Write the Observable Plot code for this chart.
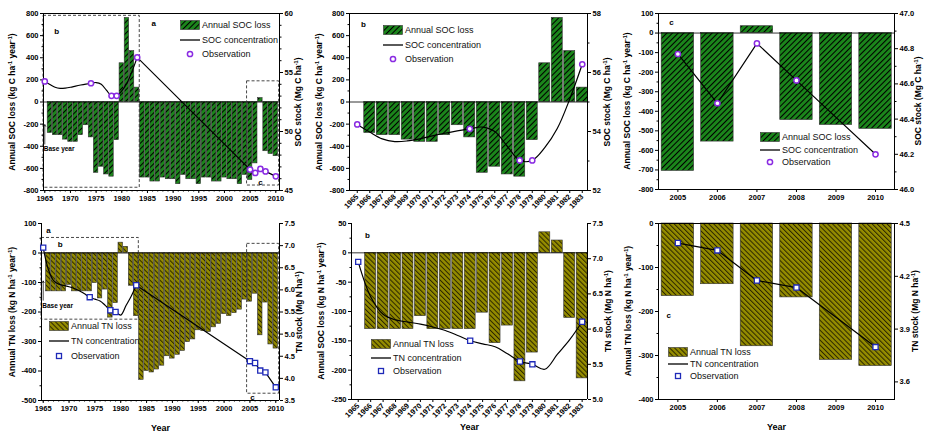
<!DOCTYPE html>
<html><head><meta charset="utf-8">
<script src="https://cdn.jsdelivr.net/npm/d3@7"></script>
<script src="https://cdn.jsdelivr.net/npm/@observablehq/plot@0.6"></script>
<style>
body{margin:0;background:#fff;font-family:"Liberation Sans",Arial,sans-serif;}
#root{position:relative;width:929px;height:434px;overflow:hidden;background:#fff;}
.panel{position:absolute;}
.panel svg{position:absolute;left:0;top:0;max-width:none;}
.lg{position:absolute;height:12px;display:flex;align-items:center;white-space:nowrap;font-size:9px;color:#111;font-family:"Liberation Sans",Arial,sans-serif;}
.lg svg{flex:none;}
.ttl{position:absolute;white-space:nowrap;font-weight:bold;font-size:8.5px;line-height:10px;color:#000;
  font-family:"Liberation Sans",Arial,sans-serif;transform:translate(-50%,-50%) rotate(-90deg);}
.ttl sup{font-size:5.5px;vertical-align:3px;line-height:0;}
</style></head><body>
<svg width="0" height="0" style="position:absolute"><defs>
<pattern id="hatchSOC" patternUnits="userSpaceOnUse" width="4" height="4" patternTransform="rotate(45)">
<rect width="4" height="4" fill="#1b861b"/><line x1="0.5" y1="0" x2="0.5" y2="4" stroke="#000" stroke-width="1.1"/></pattern>
<pattern id="hatchTN" patternUnits="userSpaceOnUse" width="3.5" height="3.5" patternTransform="rotate(-45)">
<rect width="3.5" height="3.5" fill="#948c00"/><line x1="0.5" y1="0" x2="0.5" y2="3.5" stroke="#2a2500" stroke-width="1"/></pattern>
</defs></svg>
<div id="root"></div>
<script>
// ---------- data ----------
const barYears = [1966,1967,1968,1969,1970,1971,1972,1973,1974,1975,1976,1977,1978,1979,1980,1981,1982,1983,
  1984,1985,1986,1987,1988,1989,1990,1991,1992,1993,1994,1995,1996,1997,1998,1999,2000,2001,2002,2003,2004,
  2005,2006,2007,2008,2009,2010];
const socLoss = [-280,-300,-300,-340,-360,-360,-300,-210,-320,-640,-585,-655,-675,-345,350,760,460,130,
  -683,-683,-719,-719,-683,-698,-698,-743,-659,-698,-698,-743,-683,-683,-719,-719,-683,-698,-698,-743,-659,
  -705,-555,35,-445,-470,-490];
const tnLoss = [-130,-130,-130,-130,-108,-130,-130,-130,-130,-102,-154,-124,-219,-170,35,21,-111,-214,
  -430,-400,-405,-395,-382,-350,-358,-345,-332,-302,-293,-262,-265,-268,-252,-240,-207,-214,-204,-192,-158,
  -165,-138,-279,-168,-310,-324];
const lineYears = [1965,1966,1967,1968,1969,1970,1971,1972,1973,1974,1975,1976,1977,1978,1979,1980,1981,1982,1983,
  2005,2006,2007,2008,2009,2010];
const socStock = [54.24,53.98,53.75,53.66,53.68,53.75,53.85,53.94,54.02,54.09,54.15,54.0,53.5,53.02,53.02,53.45,54.1,55.1,56.28,
  46.77,46.49,46.83,46.62,46.41,46.2];
const tnStock = [6.955,6.46,6.21,6.13,6.10,6.07,6.03,5.98,5.91,5.835,5.79,5.75,5.65,5.54,5.50,5.43,5.64,5.85,6.105,
  4.389,4.347,4.176,4.136,3.967,3.798];
const obsYears = [1965,1974,1978,1979,1983,2005,2006,2007,2008,2010];
const socObs = [54.24,54.09,53.02,53.02,56.28,46.77,46.49,46.83,46.62,46.2];
const tnObs = [6.955,5.835,5.54,5.50,6.105,4.389,4.347,4.176,4.136,3.798];

const ticksA = [1965,1970,1975,1980,1985,1990,1995,2000,2005,2010];
const ticksB = [1965,1966,1967,1968,1969,1970,1971,1972,1973,1974,1975,1976,1977,1978,1979,1980,1981,1982,1983];
const ticksC = [2005,2006,2007,2008,2009,2010];
const minorA = [1965,1966,1967,1968,1969,1970,1971,1972,1973,1974,1975,1976,1977,1978,1979,1980,1981,1982,1983,
  1984,1985,1986,1987,1988,1989,1990,1991,1992,1993,1994,1995,1996,1997,1998,1999,2000,2001,2002,2003,2004,
  2005,2006,2007,2008,2009,2010];

const zip = (xs, vs) => xs.map((year, i) => ({year, value: vs[i]}));
const SOC = {bars: zip(barYears, socLoss), line: zip(lineYears, socStock), obs: zip(obsYears, socObs)};
const TN = {bars: zip(barYears, tnLoss), line: zip(lineYears, tnStock), obs: zip(obsYears, tnObs)};

const tSOC = "Annual SOC loss (kg C ha<sup>-1</sup> year<sup>-1</sup>)";
const tSOCr = "SOC stock (Mg C ha<sup>-1</sup>)";
const tTN = "Annual TN loss (kg N ha<sup>-1</sup> year<sup>-1</sup>)";
const tTNb = "Annual SOC loss (kg N ha<sup>-1</sup> year<sup>-1</sup>)";
const tTNr = "TN stock (Mg N ha<sup>-1</sup>)";

const f1 = d => d.toFixed(1), f0 = d => String(d);
const panels = [
  {left:0, top:0, w:310, h:215, m:[13,31,25,43], xDomain:[1964.75,2010.72], range:[1965,2010], kind:"SOC", bw:0.43, topBorder:true,
   yDomain:[-800,800], yTicks:[-800,-600,-400,-200,0,200,400,600,800], yMinor:[-700,-500,-300,-100,100,300,500,700],
   rDomain:[45,60], rTicks:[45,50,55,60], rMinor:[46,47,48,49,51,52,53,54,56,57,58,59], rFmt:f0,
   xTicks:ticksA, xMinor:minorA, rotate:0,
   lt:tSOC, rt:tSOCr, ltDx:-31, rtDx:19,
   letters:[{x:1986.2,y:713,t:"a"},{x:1967.3,y:640,t:"b"},{x:2007.0,y:-725,t:"c"}],
   boxes:[{x1:1964.75,x2:1983.5,y1:-775,y2:779},{x1:2004.4,x2:2010.65,y1:-755,y2:187}],
   base:{x:1965,y1:-380,y2:-205,ty:-428},
   legend:{x:180,y:25,dy:14.5}, year:false},
  {left:310, top:0, w:310, h:215, m:[13,33,25,39], xDomain:[1964.38,1983.42], range:[1965,1983], kind:"SOC", bw:0.44, topBorder:true,
   yDomain:[-800,800], yTicks:[-800,-600,-400,-200,0,200,400,600,800], yMinor:[-700,-500,-300,-100,100,300,500,700],
   rDomain:[52,58], rTicks:[52,54,56,58], rMinor:[53,55,57], rFmt:f0,
   xTicks:ticksB, xMinor:[], rotate:-45,
   lt:tSOC, rt:tSOCr, ltDx:-30, rtDx:20,
   letters:[{x:1965.5,y:704,t:"b"}], boxes:[], base:null,
   legend:{x:383,y:30,dy:14.5}, year:false},
  {left:620, top:0, w:309, h:215, m:[13,35,26,38], xDomain:[2004.51,2010.48], range:[2005,2010], kind:"SOC", bw:0.41, topBorder:true,
   yDomain:[-800,100], yTicks:[-800,-700,-600,-500,-400,-300,-200,-100,0,100], yMinor:[-750,-650,-550,-450,-350,-250,-150,-50,50],
   rDomain:[46,47], rTicks:[46,46.2,46.4,46.6,46.8,47], rMinor:[46.1,46.3,46.5,46.7,46.9], rFmt:f1,
   xTicks:ticksC, xMinor:[], rotate:0,
   lt:tSOC, rt:tSOCr, ltDx:-31, rtDx:24,
   letters:[{x:2004.84,y:56,t:"c"}], boxes:[], base:null,
   legend:{x:760,y:137,dy:12.5}, year:false},
  {left:0, top:215, w:310, h:219, m:[8,31,34,41], xDomain:[1964.67,2010.72], range:[1965,2010], kind:"TN", bw:0.43, topBorder:false,
   yDomain:[-500,100], yTicks:[-500,-400,-300,-200,-100,0,100], yMinor:[-450,-350,-250,-150,-50,50],
   rDomain:[3.5,7.5], rTicks:[3.5,4,4.5,5,5.5,6,6.5,7,7.5], rMinor:[], rFmt:f1,
   xTicks:ticksA, xMinor:minorA, rotate:0,
   lt:tTN, rt:tTNr, ltDx:-29, rtDx:20,
   letters:[{x:1966.0,y:77,t:"a"},{x:1968.3,y:30,t:"b"},{x:2005.5,y:-490,t:"c"}],
   boxes:[{x1:1964.67,x2:1983.5,y1:-226,y2:51},{x1:2004.45,x2:2010.65,y1:-477,y2:31}],
   base:{x:1965,y1:-160,y2:-95,ty:-178},
   legend:{x:49,y:326,dy:15}, year:true},
  {left:310, top:215, w:310, h:219, m:[8,33,35,41], xDomain:[1964.46,1983.43], range:[1965,1983], kind:"TN", bw:0.44, topBorder:false,
   yDomain:[-250,50], yTicks:[-250,-200,-150,-100,-50,0,50], yMinor:[-225,-175,-125,-75,-25,25],
   rDomain:[5,7.5], rTicks:[5,5.5,6,6.5,7,7.5], rMinor:[], rFmt:f1,
   xTicks:ticksB, xMinor:[], rotate:-45,
   lt:tTNb, rt:tTNr, ltDx:-30, rtDx:21,
   letters:[{x:1965.75,y:29,t:"b"}], boxes:[], base:null,
   legend:{x:371,y:344,dy:13.5}, year:true},
  {left:620, top:215, w:309, h:219, m:[8,35,35,38], xDomain:[2004.51,2010.48], range:[2005,2010], kind:"TN", bw:0.41, topBorder:true,
   yDomain:[-400,0], yTicks:[-400,-300,-200,-100,0], yMinor:[-350,-250,-150,-50],
   rDomain:[3.5,4.5], rTicks:[3.6,3.9,4.2,4.5], rMinor:[], rFmt:f1,
   xTicks:ticksC, xMinor:[], rotate:0,
   lt:tTN, rt:tTNr, ltDx:-30, rtDx:21,
   letters:[{x:2004.77,y:-209,t:"c"}], boxes:[], base:null,
   legend:{x:668,y:352,dy:12}, year:true}
];

const root = document.getElementById("root");
const FONT = '"Liberation Sans", Arial, sans-serif';

function legend(cfg) {
  const k = cfg.kind;
  const obsSvg = k === "SOC"
    ? `<circle cx="10" cy="5" r="2.6" fill="white" stroke="#8a2be2" stroke-width="1.5"/>`
    : `<rect x="7.5" y="2.5" width="5" height="5" fill="white" stroke="#1f2ab8" stroke-width="1.3"/>`;
  const rows = [
    [`<rect x="0.5" y="0.5" width="19" height="9" fill="url(#hatch${k})" stroke="#333" stroke-width="0.6"/>`, `Annual ${k} loss`],
    [`<line x1="0" y1="5" x2="20" y2="5" stroke="#000" stroke-width="1.3"/>`, `${k} concentration`],
    [obsSvg, "Observation"]
  ];
  rows.forEach(([sw, label], i) => {
    const d = document.createElement("div");
    d.className = "lg";
    d.style.left = cfg.legend.x + "px";
    d.style.top = (cfg.legend.y + i * cfg.legend.dy - 6) + "px";
    d.innerHTML = `<svg width="20" height="10">${sw}</svg><span style="margin-left:2px">${label}</span>`;
    root.appendChild(d);
  });
}

function title(html, cx, cy) {
  const d = document.createElement("div");
  d.className = "ttl";
  d.style.left = cx + "px";
  d.style.top = cy + "px";
  d.innerHTML = html;
  root.appendChild(d);
}

function panel(cfg) {
  const D = cfg.kind === "SOC" ? SOC : TN;
  const inR = d => d.year >= cfg.range[0] && d.year <= cfg.range[1];
  const bars = D.bars.filter(inR);
  const early = D.line.filter(d => inR(d) && d.year <= 1983);
  const late = D.line.filter(d => inR(d) && d.year >= 1983);
  const obs = D.obs.filter(inR);
  const [mt, mr, mb, ml] = cfg.m;
  const common = {
    width: cfg.w, height: cfg.h, marginTop: mt, marginRight: mr, marginBottom: mb, marginLeft: ml,
    style: {fontFamily: FONT, fontSize: "7.5px", fontWeight: "bold", color: "#000", background: "transparent", overflow: "visible"}
  };
  const fill = `url(#hatch${cfg.kind})`;
  const border = cfg.topBorder
    ? [Plot.frame({stroke: "#000", strokeWidth: 1})]
    : [Plot.ruleX([cfg.xDomain[0], cfg.xDomain[1]], {stroke: "#000", strokeWidth: 1}),
       Plot.ruleY([cfg.yDomain[0]], {stroke: "#000", strokeWidth: 1})];
  const marks = [
    Plot.rectY(bars, {x1: d => d.year - cfg.bw, x2: d => d.year + cfg.bw, y1: 0, y2: "value", fill, stroke: "#333", strokeWidth: 0.6}),
    Plot.ruleY([0], {stroke: "#000", strokeWidth: 0.8}),
    Plot.rect(cfg.boxes, {x1: "x1", x2: "x2", y1: "y1", y2: "y2", fill: "none", stroke: "#333", strokeWidth: 0.9, strokeDasharray: "3,2"}),
    ...border,
    Plot.axisY({ticks: cfg.yTicks, tickFormat: f0, tickSize: 3, tickPadding: 2, label: null}),
    Plot.axisY({ticks: cfg.yMinor, tickFormat: () => "", tickSize: 1.5, label: null}),
    Plot.axisX({ticks: cfg.xTicks, tickFormat: f0, tickSize: 3, tickPadding: 2, tickRotate: cfg.rotate, label: null}),
    Plot.axisX({ticks: cfg.xMinor, tickFormat: () => "", tickSize: 1.5, label: null}),
    Plot.text(cfg.letters, {x: "x", y: "y", text: "t", fontSize: 8, fontWeight: "bold"})
  ];
  if (cfg.base) {
    marks.push(Plot.arrow([cfg.base], {x1: "x", x2: "x", y1: "y1", y2: "y2", stroke: "#000", strokeWidth: 0.7, headLength: 4}));
    marks.push(Plot.text([cfg.base], {x: "x", y: "ty", text: () => "Base year", textAnchor: "start", dx: -1, fontSize: 6.5, fontWeight: "bold"}));
  }
  if (cfg.year) marks.push(Plot.text(["Year"], {text: d => d, frameAnchor: "bottom", dy: 30, fontSize: 9, fontWeight: "bold"}));

  const base = Plot.plot({...common, x: {type: "linear", domain: cfg.xDomain, axis: null}, y: {domain: cfg.yDomain, axis: null}, marks});

  const dot = cfg.kind === "SOC"
    ? Plot.dot(obs, {x: "year", y: "value", r: 2.6, fill: "white", stroke: "#8a2be2", strokeWidth: 1.5})
    : Plot.dot(obs, {x: "year", y: "value", symbol: "square", r: 2.9, fill: "white", stroke: "#1f2ab8", strokeWidth: 1.3});
  const over = Plot.plot({...common, x: {type: "linear", domain: cfg.xDomain, axis: null}, y: {domain: cfg.rDomain, axis: null},
    marks: [
      Plot.axisY({anchor: "right", ticks: cfg.rTicks, tickFormat: cfg.rFmt, tickSize: 3, tickPadding: 2, label: null}),
      Plot.axisY({anchor: "right", ticks: cfg.rMinor, tickFormat: () => "", tickSize: 1.5, label: null}),
      Plot.line(early, {x: "year", y: "value", curve: "catmull-rom", stroke: "#000", strokeWidth: 1.2}),
      Plot.line(late, {x: "year", y: "value", stroke: "#000", strokeWidth: 1.2}),
      dot
    ]});

  const div = document.createElement("div");
  div.className = "panel";
  Object.assign(div.style, {left: cfg.left + "px", top: cfg.top + "px", width: cfg.w + "px", height: cfg.h + "px"});
  base.style.background = "#fff";
  div.appendChild(base);
  div.appendChild(over);
  root.appendChild(div);
  const cy = cfg.top + (mt + cfg.h - mb) / 2;
  title(cfg.lt, cfg.left + ml + cfg.ltDx, cy);
  title(cfg.rt, cfg.left + cfg.w - mr + cfg.rtDx, cy);
  legend(cfg);
}
panels.forEach(panel);
</script>
</body></html>
